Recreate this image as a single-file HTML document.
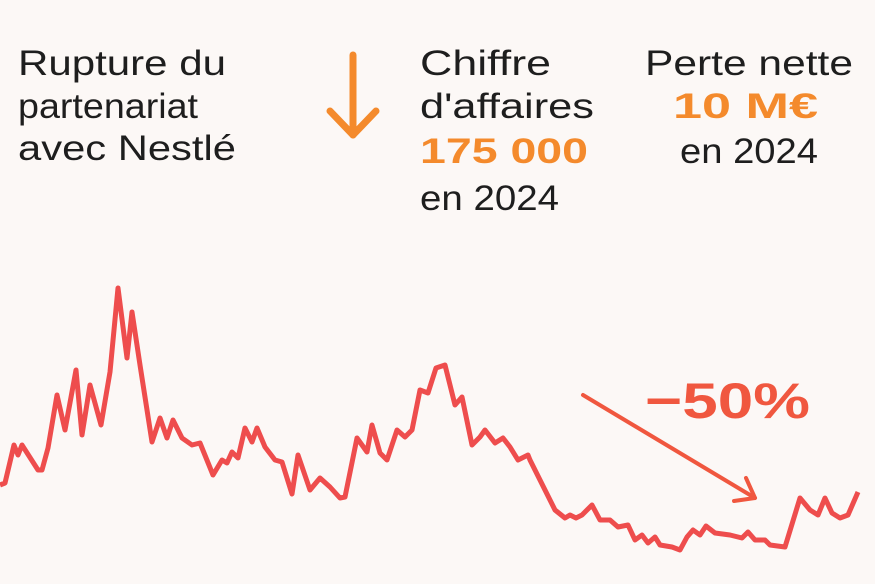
<!DOCTYPE html>
<html><head><meta charset="utf-8"><style>
html,body{margin:0;padding:0;background:#fcf8f6;}
svg{display:block;}
text{font-family:"Liberation Sans",sans-serif;font-size:35px;fill:#1e1e1e;}
.o{fill:#f48a2c;font-weight:bold;}
</style></head><body>
<svg width="875" height="584" viewBox="0 0 875 584">
<rect width="875" height="584" fill="#fcf8f6"/>
<text x="18" y="75" textLength="208" lengthAdjust="spacingAndGlyphs">Rupture du</text>
<text x="18" y="118" textLength="180" lengthAdjust="spacingAndGlyphs">partenariat</text>
<text x="18" y="160" textLength="218" lengthAdjust="spacingAndGlyphs">avec Nestlé</text>
<g stroke="#f48a2c" stroke-width="7" stroke-linecap="round" stroke-linejoin="round" fill="none">
<line x1="353" y1="55" x2="353" y2="135"/>
<polyline points="330,111 353,135 376,111"/>
</g>
<text x="420" y="75" textLength="131" lengthAdjust="spacingAndGlyphs">Chiffre</text>
<text x="420" y="118" textLength="174" lengthAdjust="spacingAndGlyphs">d'affaires</text>
<text class="o" x="420" y="163" textLength="168" lengthAdjust="spacingAndGlyphs">175 000</text>
<text x="420" y="210" textLength="139" lengthAdjust="spacingAndGlyphs">en 2024</text>
<text x="645" y="75" textLength="208" lengthAdjust="spacingAndGlyphs">Perte nette</text>
<text class="o" x="673" y="118" textLength="145" lengthAdjust="spacingAndGlyphs">10 M€</text>
<text x="680" y="163" textLength="138" lengthAdjust="spacingAndGlyphs">en 2024</text>
<polyline fill="none" stroke="#ee4d4d" stroke-width="5" stroke-linejoin="round" points="0,485 5,483 14,445 18,455 22,445 38,470 42,470 48,448 57,395 65,430 76,370 82,435 90,385 101,425 110,372 118,288 127,358 132,312 140,365 152,442 160,418 167,438 173,420 182,438 192,445 200,443 213,475 222,460 227,463 232,452 238,458 245,428 252,442 257,428 265,447 275,460 282,462 292,494 298,455 310,490 320,478 330,487 340,498 345,497 357,438 367,452 372,425 380,453 387,460 397,430 405,437 412,430 420,390 428,393 436,368 445,365 455,405 462,397 472,445 480,437 485,430 495,443 503,438 510,447 518,460 528,455 530,460 555,510 565,518 570,515 576,518 582,515 592,505 600,520 610,520 618,527 628,525 635,540 642,535 648,543 655,537 660,545 672,547 680,550 687,537 693,530 700,535 706,526 715,533 730,535 742,538 748,532 755,540 765,540 770,545 785,547 800,498 810,510 818,515 825,498 832,513 840,518 848,515 858,492"/>
<g stroke="#f0573f" stroke-width="4" stroke-linecap="round" stroke-linejoin="round" fill="none">
<line x1="583" y1="395" x2="755" y2="498"/>
<polyline points="746,478 755,498 734,501"/>
</g>
<text x="645" y="418" style="font-size:50px;font-weight:bold;fill:#f0573f" textLength="165" lengthAdjust="spacingAndGlyphs">−50%</text>
</svg>
</body></html>
